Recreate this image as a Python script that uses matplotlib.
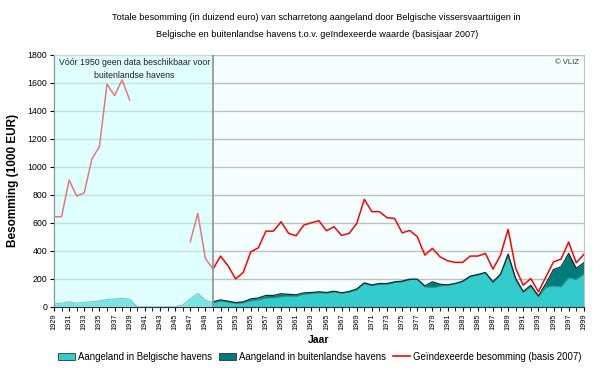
import numpy as np
import matplotlib
matplotlib.use("Agg")
import matplotlib.pyplot as plt
from matplotlib.patches import Rectangle, Patch
from matplotlib.lines import Line2D

plt.rcParams['font.family'] = ['Liberation Sans', 'DejaVu Sans']

nan = np.nan
years = np.arange(1929, 2000)

# aangeland in Belgische havens (1000 EUR)
belgisch = [24, 27, 36, 26, 33, 36, 43, 53, 57, 60, 55, 0, 0, 0, 0, 0, 0, 14, 58, 96, 48,
            29, 43, 34, 24, 29, 43, 50, 64, 64, 72, 76, 76, 90, 95, 100, 98, 107, 98, 105, 122,
            167, 152, 162, 162, 174, 179, 196, 196, 143, 136, 148, 155, 165, 179, 215, 227, 243,
            174, 227, 363, 191, 103, 143, 72, 139, 150, 143, 207, 196, 232]

# aangeland in buitenlandse havens (pas vanaf 1950)
buitenlands = [nan] * 21 + [
    7, 7, 7, 7, 7, 14, 14, 18, 18, 22, 14, 10, 10, 8, 8, 5, 5, 3, 5, 6,
    5, 5, 5, 5, 5, 5, 2, 2, 7, 43, 14, 2, 2, 5, 5, 5, 3, 5, 7, 14,
    12, 7, 12, 7, 28, 117, 143, 175, 79, 83]

# geindexeerde besomming (basis 2007)
geindexeerd = [644, 644, 906, 791, 815, 1056, 1144, 1590, 1509, 1621, 1478,
               nan, nan, nan, nan, nan, nan, nan, 465, 668, 346,
               270, 363, 293, 200, 246, 393, 422, 541, 541, 608, 525, 508, 584, 601, 615,
               544, 572, 511, 525, 596, 768, 680, 680, 637, 632, 529, 546, 501, 370, 418,
               358, 329, 318, 318, 363, 363, 382, 270, 370, 554, 275, 155, 203, 107, 215,
               322, 341, 463, 315, 375]

bel = np.array(belgisch, dtype=float)
bui = np.array(buitenlands, dtype=float)
tot = bel + bui

fig = plt.figure(figsize=(6, 3.68), dpi=100)
ax = fig.add_axes([0.09, 0.166, 0.883, 0.685])
ax.set_facecolor("#f5ffff")

licht = "#33cccc"
donker = "#007b7b"

ax.fill_between(years, 0, bel, color=licht, lw=0, zorder=2)
ok = ~np.isnan(bui)
ax.fill_between(years[ok], bel[ok], tot[ok], color=donker, lw=0, zorder=2)
ax.plot(years, bel, color="#2a9a9a", lw=0.8, zorder=3)
ax.plot(years[ok], tot[ok], color="#0a2e2e", lw=0.9, zorder=3)
ax.plot(years, geindexeerd, color="#ff0000", lw=1.1, zorder=4)

# overlay voor de periode zonder buitenlandse data
ax.add_patch(Rectangle((1929, 0), 21, 1800, facecolor="#c8ffff", alpha=0.48,
                       edgecolor="none", zorder=5))
ax.axvline(1950, color="#909090", lw=1.2, zorder=6)
ax.text(1939.6, 1775, "Vóór 1950 geen data beschikbaar voor\nbuitenlandse havens",
        ha="center", va="top", fontsize=6.3, linespacing=1.55, color="#222222", zorder=7)
ax.text(1998.3, 1770, "© VLIZ", ha="right", va="top", fontsize=5.5, color="#333333", zorder=7)

ax.set_xlim(1929, 1999)
ax.set_ylim(0, 1800)
ax.set_yticks(np.arange(0, 1801, 200))
ax.set_xticks(years, minor=True)
ax.set_xticks(np.arange(1929, 2000, 2))
ax.set_xticklabels([str(y) for y in range(1929, 2000, 2)], rotation=90, fontsize=5.3)
ax.tick_params(axis="y", labelsize=6.3, length=3, pad=2)
ax.tick_params(axis="x", which="both", length=3, pad=2)
ax.grid(axis="y", color="#c0c0c0", lw=1, zorder=1)
ax.set_axisbelow(True)
for s in ["top", "right"]:
    ax.spines[s].set_color("#c0c0c0")
for s in ["left", "bottom"]:
    ax.spines[s].set_color("#333333")
    ax.spines[s].set_linewidth(0.8)

ax.set_ylabel("Besomming (1000 EUR)", fontsize=8.5, fontweight="bold", labelpad=6)
ax.set_xlabel("Jaar", fontsize=7.5, fontweight="bold", labelpad=3)

fig.text(0.528, 0.952, "Totale besomming (in duizend euro) van scharretong aangeland door Belgische vissersvaartuigen in",
         ha="center", va="center", fontsize=6.6)
fig.text(0.528, 0.905, "Belgische en buitenlandse havens t.o.v. geïndexeerde waarde (basisjaar 2007)",
         ha="center", va="center", fontsize=6.6)

handles = [Patch(facecolor=licht, edgecolor="#333333", lw=0.6),
           Patch(facecolor=donker, edgecolor="#333333", lw=0.6),
           Line2D([], [], color="#ff0000", lw=1.2)]
labels = ["Aangeland in Belgische havens", "Aangeland in buitenlandse havens",
          "Geïndexeerde besomming (basis 2007)"]
fig.legend(handles, labels, loc="center", bbox_to_anchor=(0.533, 0.03), ncol=3, frameon=False,
           fontsize=6.9, handlelength=1.8, handleheight=0.8, handletextpad=0.3, columnspacing=0.7)

fig.savefig("out.png", dpi=100)
